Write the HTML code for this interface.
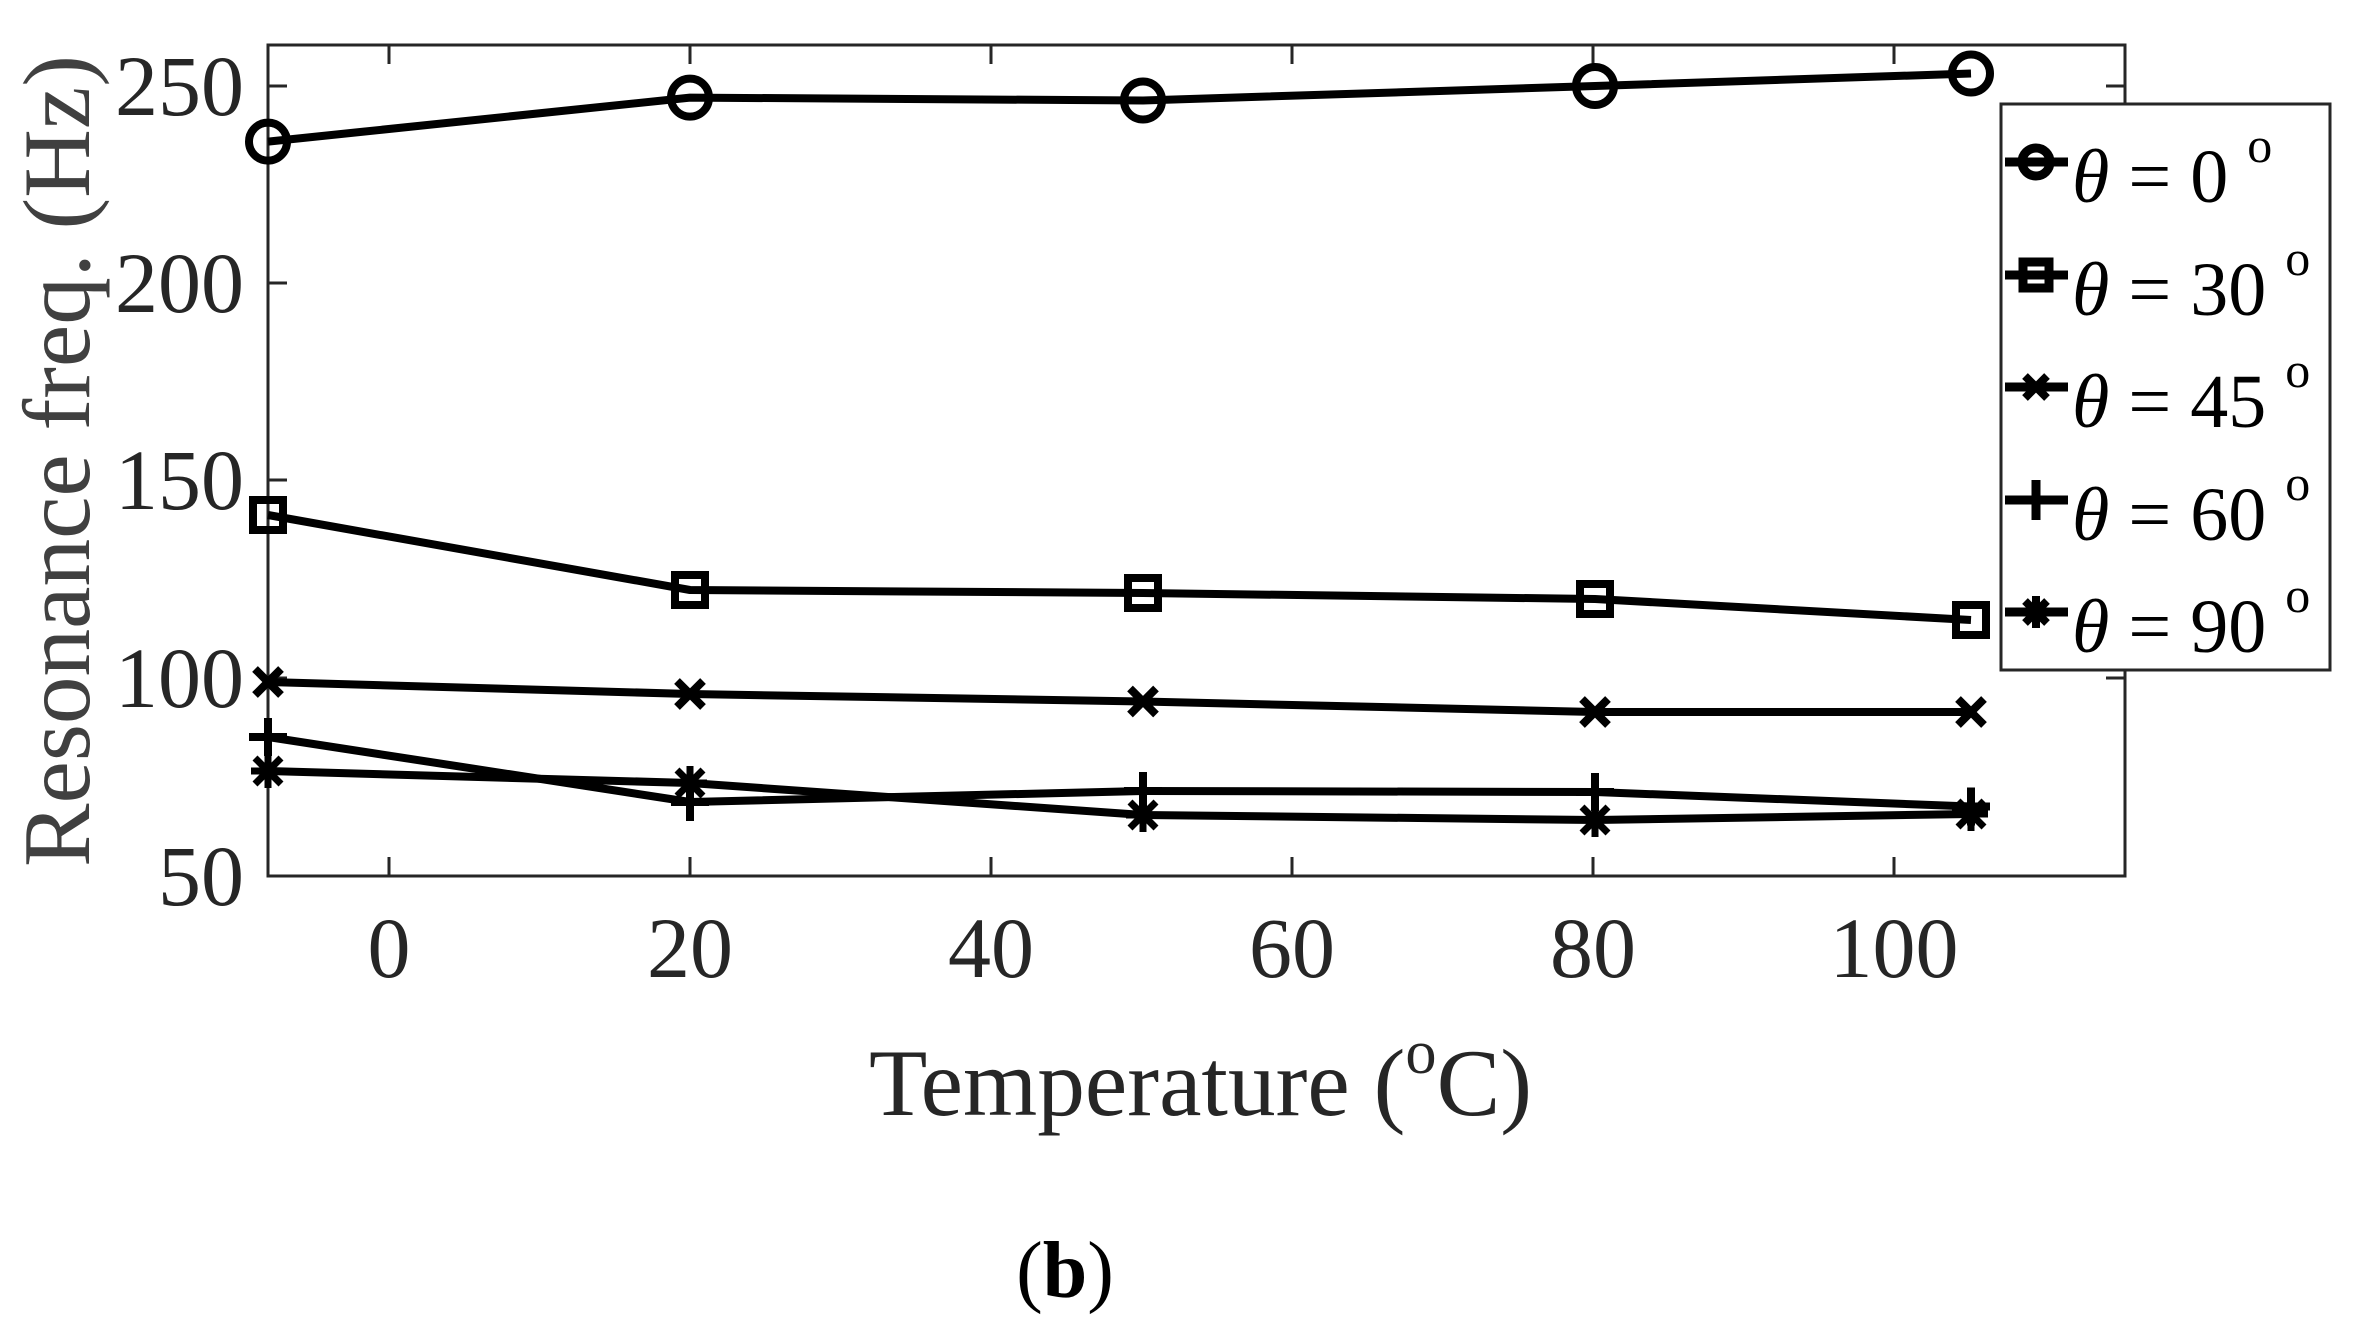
<!DOCTYPE html>
<html><head><meta charset="utf-8"><style>
html,body{margin:0;padding:0;background:#fff;width:2359px;height:1328px;overflow:hidden}
svg{display:block}
text{font-family:"Liberation Serif",serif}
</style></head><body>
<svg width="2359" height="1328" viewBox="0 0 2359 1328" xmlns="http://www.w3.org/2000/svg">
<defs>
<g id="mO"><circle r="19" fill="none" stroke="#000" stroke-width="8"/></g>
<g id="mS"><rect x="-15" y="-15" width="30" height="30" fill="none" stroke="#000" stroke-width="8"/></g>
<g id="mX" stroke="#000" stroke-width="8"><line x1="-13" y1="-13" x2="13" y2="13"/><line x1="-13" y1="13" x2="13" y2="-13"/></g>
<g id="mP" stroke="#000" stroke-width="8"><line x1="-19" y1="0" x2="19" y2="0"/><line x1="0" y1="-19" x2="0" y2="19"/></g>
<g id="mA" stroke="#000" stroke-width="7"><line x1="-13" y1="-13" x2="13" y2="13"/><line x1="-13" y1="13" x2="13" y2="-13"/><line x1="0" y1="-17" x2="0" y2="17"/><line x1="-17" y1="0" x2="17" y2="0"/></g>
</defs>
<rect x="268" y="45" width="1857" height="831" fill="none" stroke="#262626" stroke-width="3"/>
<g stroke="#262626" stroke-width="3">
<line x1="389" y1="876" x2="389" y2="857"/><line x1="690" y1="876" x2="690" y2="857"/><line x1="991" y1="876" x2="991" y2="857"/><line x1="1292" y1="876" x2="1292" y2="857"/><line x1="1593" y1="876" x2="1593" y2="857"/><line x1="1894" y1="876" x2="1894" y2="857"/>
<line x1="389" y1="45" x2="389" y2="64"/><line x1="690" y1="45" x2="690" y2="64"/><line x1="991" y1="45" x2="991" y2="64"/><line x1="1292" y1="45" x2="1292" y2="64"/><line x1="1593" y1="45" x2="1593" y2="64"/><line x1="1894" y1="45" x2="1894" y2="64"/>
<line x1="268" y1="86" x2="287" y2="86"/><line x1="268" y1="283" x2="287" y2="283"/><line x1="268" y1="480" x2="287" y2="480"/><line x1="268" y1="678" x2="287" y2="678"/>
<line x1="2125" y1="86" x2="2106" y2="86"/><line x1="2125" y1="283" x2="2106" y2="283"/><line x1="2125" y1="480" x2="2106" y2="480"/><line x1="2125" y1="678" x2="2106" y2="678"/>
</g>
<g font-size="86" fill="#262626" text-anchor="end">
<text x="244" y="115">250</text><text x="244" y="312">200</text><text x="244" y="509">150</text><text x="244" y="707">100</text><text x="244" y="905">50</text>
</g>
<g font-size="86" fill="#262626" text-anchor="middle">
<text x="389" y="977">0</text><text x="690" y="977">20</text><text x="991" y="977">40</text><text x="1292" y="977">60</text><text x="1593" y="977">80</text><text x="1894" y="977">100</text>
</g>
<text transform="translate(89,461) rotate(-90)" font-size="95" fill="#404040" text-anchor="middle" textLength="812" lengthAdjust="spacingAndGlyphs">Resonance freq. (Hz)</text>
<text x="869" y="1115" font-size="95" fill="#262626" textLength="663" lengthAdjust="spacingAndGlyphs">Temperature (<tspan dy="-42" font-size="62">o</tspan><tspan dy="42">C)</tspan></text>
<text x="1065" y="1297" font-size="80" fill="#000" text-anchor="middle"><tspan>(</tspan><tspan font-weight="bold">b</tspan><tspan>)</tspan></text>
<g fill="none" stroke="#000" stroke-width="8" stroke-linejoin="round">
<polyline points="268,141.6 690,97.6 1143,100.5 1595,86 1971,73.5"/>
<polyline points="268,515 690,590 1143,593 1595,599 1971,620"/>
<polyline points="268,682 690,694 1143,701.5 1595,712 1971,712"/>
<polyline points="268,737 690,802 1143,791 1595,792 1971,806.5"/>
<polyline points="268,771 690,783 1143,815 1595,820 1971,814"/>
</g>
<use href="#mO" x="268" y="141.6"/><use href="#mO" x="690" y="97.6"/><use href="#mO" x="1143" y="100.5"/><use href="#mO" x="1595" y="86"/><use href="#mO" x="1971" y="73.5"/>
<use href="#mS" x="268" y="515"/><use href="#mS" x="690" y="590"/><use href="#mS" x="1143" y="593"/><use href="#mS" x="1595" y="599"/><use href="#mS" x="1971" y="620"/>
<use href="#mX" x="268" y="682"/><use href="#mX" x="690" y="694"/><use href="#mX" x="1143" y="701.5"/><use href="#mX" x="1595" y="712"/><use href="#mX" x="1971" y="712"/>
<use href="#mP" x="268" y="737"/><use href="#mP" x="690" y="802"/><use href="#mP" x="1143" y="791"/><use href="#mP" x="1595" y="792"/><use href="#mP" x="1971" y="806.5"/>
<use href="#mA" x="268" y="771"/><use href="#mA" x="690" y="783"/><use href="#mA" x="1143" y="815"/><use href="#mA" x="1595" y="820"/><use href="#mA" x="1971" y="814"/>
<rect x="2001" y="104" width="329" height="566" fill="#fff" stroke="#262626" stroke-width="3"/>
<g stroke="#000" stroke-width="9">
<line x1="2005" y1="162" x2="2068" y2="162"/><line x1="2005" y1="275" x2="2068" y2="275"/><line x1="2005" y1="387" x2="2068" y2="387"/><line x1="2005" y1="500" x2="2068" y2="500"/><line x1="2005" y1="612" x2="2068" y2="612"/>
</g>
<circle cx="2036" cy="162" r="14" fill="none" stroke="#000" stroke-width="9"/>
<rect x="2023" y="262" width="26" height="26" fill="none" stroke="#000" stroke-width="9"/>
<g stroke="#000" stroke-width="8"><line x1="2025" y1="376" x2="2047" y2="398"/><line x1="2025" y1="398" x2="2047" y2="376"/></g>
<g stroke="#000" stroke-width="9"><line x1="2036" y1="480" x2="2036" y2="520"/></g>
<g stroke="#000" stroke-width="8"><line x1="2025" y1="601" x2="2047" y2="623"/><line x1="2025" y1="623" x2="2047" y2="601"/><line x1="2036" y1="596" x2="2036" y2="628"/></g>
<g font-size="76" fill="#000">
<text x="2072" y="202"><tspan font-style="italic">θ</tspan> = 0 <tspan dy="-40" font-size="50">o</tspan></text>
<text x="2072" y="315"><tspan font-style="italic">θ</tspan> = 30 <tspan dy="-40" font-size="50">o</tspan></text>
<text x="2072" y="427"><tspan font-style="italic">θ</tspan> = 45 <tspan dy="-40" font-size="50">o</tspan></text>
<text x="2072" y="540"><tspan font-style="italic">θ</tspan> = 60 <tspan dy="-40" font-size="50">o</tspan></text>
<text x="2072" y="652"><tspan font-style="italic">θ</tspan> = 90 <tspan dy="-40" font-size="50">o</tspan></text>
</g>
</svg>
</body></html>
